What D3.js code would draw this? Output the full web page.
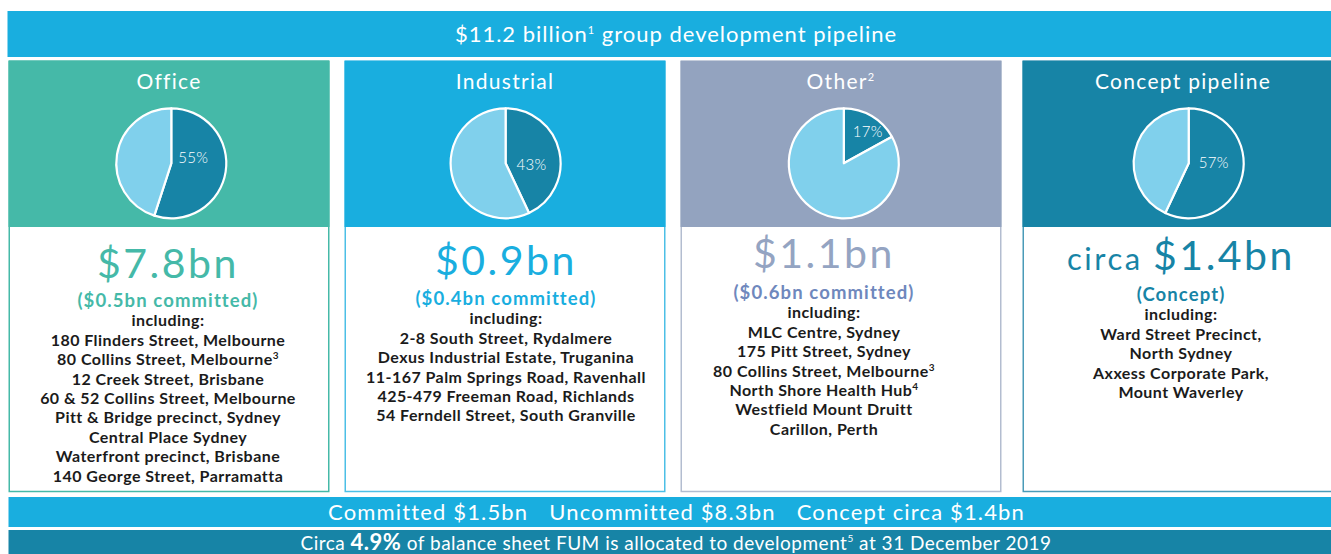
<!DOCTYPE html>
<html><head><meta charset="utf-8">
<script src="https://cdn.jsdelivr.net/npm/d3@7"></script>
<style>
body{margin:0;background:#fff;}
svg{display:block;font-family:Lato,"Open Sans",sans-serif;}
</style>
</head><body>
<svg id="chart" width="1331" height="554"></svg>
<script>
// ---------------- DATA ----------------
const headlineParts = ["$11.2 billion", "1", " group development pipeline"];
const categories = ["Office", "Industrial", "Other", "Concept pipeline"];
const categorySups = ["", "", "2", ""];
const pieShares = [55, 43, 17, 57];           // % shown in dark slice
const totalPrefixes = ["", "", "", "circa "];
const totals = ["$7.8bn", "$0.9bn", "$1.1bn", "$1.4bn"];
const subLabels = ["($0.5bn committed)", "($0.4bn committed)", "($0.6bn committed)", "(Concept)"];
const officeProjects = ["180 Flinders Street, Melbourne", "80 Collins Street, Melbourne^3", "12 Creek Street, Brisbane",
  "60 & 52 Collins Street, Melbourne", "Pitt & Bridge precinct, Sydney", "Central Place Sydney",
  "Waterfront precinct, Brisbane", "140 George Street, Parramatta"];
const industrialProjects = ["2-8 South Street, Rydalmere", "Dexus Industrial Estate, Truganina",
  "11-167 Palm Springs Road, Ravenhall", "425-479 Freeman Road, Richlands", "54 Ferndell Street, South Granville"];
const otherProjects = ["MLC Centre, Sydney", "175 Pitt Street, Sydney", "80 Collins Street, Melbourne^3",
  "North Shore Health Hub^4", "Westfield Mount Druitt", "Carillon, Perth"];
const conceptProjects = ["Ward Street Precinct,", "North Sydney", "Axxess Corporate Park,", "Mount Waverley"];
const summaryItems = ["Committed $1.5bn", "Uncommitted $8.3bn", "Concept circa $1.4bn"];
const footParts = ["Circa ", "4.9%", " of balance sheet FUM is allocated to development", "5", " at 31 December 2019"];

// ---------------- LAYOUT / STYLE ----------------
const W = 1331, H = 554;
const svg = d3.select("#chart");
const blue = "#19aedf", teal = "#1784a6", light = "#80d0ec";
const headColors = ["#45b9a8", "#19aedf", "#93a3bf", "#1784a6"];
const numColors = ["#45b9a8", "#19aedf", "#94a4c2", "#1784a6"];
const subColors = ["#45b9a8", "#19aedf", "#6f88bd", "#1784a6"];
const borderColors = ["#45b9a8", "#4dbfe6", "#b3bdd0", "#4a9bb8"];
const projectLists = [officeProjects, industrialProjects, otherProjects, conceptProjects];

const panelX = d3.scaleOrdinal().domain(categories).range([8.5, 344.5, 680.5, 1022.5]);
const panelW = 321;
const pieCx = [171.3, 505.6, 843.8, 1188.7];
const textCx = [168, 506, 824, 1181];
const numBase = [278, 275, 268, 270];
const firstGap = [29, 30, 31, 31];
const lineH = 19.4;
const labelNudge = [[22, -6], [26, 1], [24, -32], [25, -1]];
const pieR = 55, pieCy = 163.3;

// top banner
svg.append("rect").attr("x", 7.5).attr("y", 11).attr("width", W - 7.5).attr("height", 46).attr("fill", blue);
const ht = svg.append("text").attr("x", 676).attr("y", 41.5).attr("text-anchor", "middle")
  .attr("fill", "#fff").attr("font-size", 22).attr("letter-spacing", 1.0);
ht.append("tspan").text(headlineParts[0]);
ht.append("tspan").attr("font-size", 11).attr("dy", -8).text(headlineParts[1]);
ht.append("tspan").attr("dy", 8).text(headlineParts[2]);

const pie = d3.pie().sort(null).value(d => d);
const arc = d3.arc().innerRadius(0).outerRadius(pieR);

categories.forEach((cat, i) => {
  const x0 = panelX(cat);
  const g = svg.append("g");
  // white box
  g.append("rect").attr("x", x0 + 0.75).attr("y", 61).attr("width", panelW - 1.5).attr("height", 430.5)
    .attr("fill", "#fff").attr("stroke", borderColors[i]).attr("stroke-width", 1.5);
  // coloured header
  g.append("rect").attr("x", x0).attr("y", 61).attr("width", panelW).attr("height", 166).attr("fill", headColors[i]);
  // title
  const t = g.append("text").attr("x", x0 + panelW / 2).attr("y", 88.5).attr("text-anchor", "middle")
    .attr("fill", "#fff").attr("font-size", 21).attr("font-weight", 400).attr("letter-spacing", 1.3);
  t.append("tspan").text(cat);
  if (categorySups[i]) t.append("tspan").attr("font-size", 11).attr("dy", -8).text(categorySups[i]);
  // pie
  const pg = g.append("g").attr("transform", `translate(${pieCx[i]},${pieCy})`);
  pg.selectAll("path").data(pie([pieShares[i], 100 - pieShares[i]])).join("path")
    .attr("d", arc).attr("fill", (d, j) => j === 0 ? teal : light)
    .attr("stroke", "#fff").attr("stroke-width", 2.2).attr("stroke-linejoin", "round");
  pg.append("text").attr("x", labelNudge[i][0]).attr("y", labelNudge[i][1] + 5.5).attr("text-anchor", "middle")
    .attr("fill", "#fff").attr("font-size", 15).attr("font-weight", 300).attr("letter-spacing", 0.3)
    .text(pieShares[i] + "%");
  // total
  const nt = g.append("text").attr("x", textCx[i]).attr("y", numBase[i]).attr("text-anchor", "middle")
    .attr("fill", numColors[i]).attr("font-size", 41).attr("font-weight", 400).attr("letter-spacing", 2.5);
  if (totalPrefixes[i]) nt.append("tspan").attr("font-size", 31).text(totalPrefixes[i]);
  nt.append("tspan").text(totals[i]);
  // sub label
  g.append("text").attr("x", textCx[i]).attr("y", numBase[i] + firstGap[i]).attr("text-anchor", "middle")
    .attr("fill", subColors[i]).attr("font-size", 18.5).attr("font-weight", 700).attr("letter-spacing", 1.1)
    .text(subLabels[i]);
  // including + list
  const lines = ["including:"].concat(projectLists[i]);
  lines.forEach((ln, k) => {
    const tx = g.append("text").attr("x", textCx[i]).attr("y", numBase[i] + firstGap[i] + lineH * (k + 1))
      .attr("text-anchor", "middle").attr("fill", "#1b1b1b").attr("font-size", 16).attr("font-weight", 700)
      .attr("letter-spacing", 0.45);
    const parts = ln.split("^");
    tx.append("tspan").text(parts[0]);
    if (parts[1]) tx.append("tspan").attr("font-size", 10).attr("dy", -6).text(parts[1]);
  });
});

// summary bar
svg.append("rect").attr("x", 8.5).attr("y", 497).attr("width", W - 8.5).attr("height", 30).attr("fill", blue);
const sg = svg.append("g");
const sTexts = sg.selectAll("text").data(summaryItems).join("text")
  .attr("y", 519.5).attr("fill", "#fff").attr("font-size", 22).attr("letter-spacing", 1.15).text(d => d);
const gap = 21;
let cursor = 0;
sTexts.each(function () {
  d3.select(this).attr("x", cursor);
  cursor += this.getComputedTextLength() + gap;
});
const totalW = cursor - gap;
sg.attr("transform", `translate(${676.5 - totalW / 2},0)`);

// footer bar
svg.append("rect").attr("x", 8.5).attr("y", 530).attr("width", W - 8.5).attr("height", 30).attr("fill", teal);
const ft = svg.append("text").attr("x", 676).attr("y", 550).attr("text-anchor", "middle").attr("fill", "#fff")
  .attr("font-size", 19).attr("letter-spacing", 0.5);
ft.append("tspan").text(footParts[0]);
ft.append("tspan").attr("font-weight", 700).attr("font-size", 22).text(footParts[1]);
ft.append("tspan").text(footParts[2]);
ft.append("tspan").attr("font-size", 10).attr("dy", -8).text(footParts[3]);
ft.append("tspan").attr("dy", 8).text(footParts[4]);
</script>
</body></html>
